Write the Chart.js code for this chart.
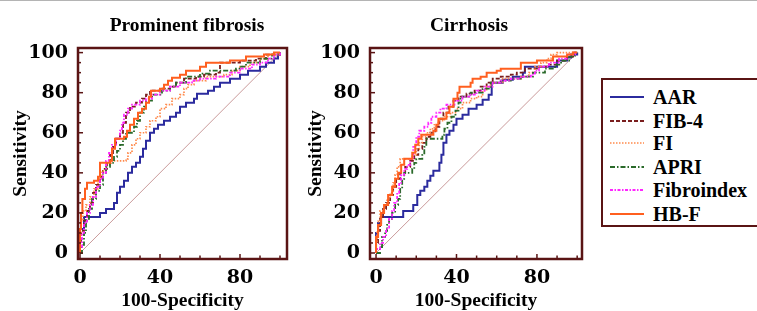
<!DOCTYPE html>
<html>
<head>
<meta charset="utf-8">
<script src="https://cdn.jsdelivr.net/npm/chart.js@4.4.0/dist/chart.umd.min.js"></script>
<style>
    body { margin: 0; width: 757px; height: 311px; overflow: hidden; background: #fff; position: relative; }
    .topline { position: absolute; left: 0; top: 0; width: 757px; height: 1px; background: #b4b4b4; }
    .panel { position: absolute; top: 0; }
    .title { position: absolute; width: 220px; text-align: center; font: bold 19.5px "Liberation Serif", serif; line-height: 22px; color: #000; }
    .legend { position: absolute; left: 601px; top: 78px; width: 180px; height: 149px; box-sizing: border-box; border: 2px solid #5a1414; }
    .legend .row { position: absolute; left: 0; height: 22px; }
    .legend svg { position: absolute; left: 7px; top: 0; }
    .legend span { position: absolute; left: 50px; top: 0; font: bold 20px "Liberation Serif", serif; line-height: 22px; color: #000; white-space: nowrap; }
</style>
</head>
<body>
<div class="topline"></div>
<div class="panel" style="left:0"><canvas id="pfChart" width="295" height="311"></canvas></div>
<div class="panel" style="left:295px"><canvas id="ciChart" width="295" height="311"></canvas></div>
<div class="title" style="left:77px; top:14px">Prominent fibrosis</div>
<div class="title" style="left:359px; top:14px">Cirrhosis</div>
<div class="legend" id="legend"></div>

<script>
// ROC curves: [100-Specificity, Sensitivity] step corners

// Prominent fibrosis
const pfAAR = [[0,0],[0,12],[2,18],[10,20],[13,22],[17,25],[18.5,30],[20,33],[22,36],[24,40],[26,43],[28,45],[30,48],[31.5,52],[33,56],[35,60],[37,62],[39,64],[42,66],[45,68],[48,70],[50,73],[53,75],[57,77],[58.5,79.5],[64,81],[67,83],[70,85],[75,87],[80,89],[84,91],[90,93],[93,95],[97,97],[99,99],[100,100]];
const pfFIB4 = [[0,0],[0,5],[0.5,11],[2,16],[3.5,21],[5,25],[6.5,30],[8,34],[10,38],[11.5,42],[13.5,45],[15,49],[16.5,53],[18,57],[20,60],[21.5,65],[23,70],[25,73],[28,75],[31,77],[33,79],[35,81],[40,82],[45,83],[48,85],[52,87],[58,88],[62,89],[68,90],[70,95],[80,96],[88,97],[93,99],[100,100]];
const pfFI = [[0,0],[0,8],[0.5,16],[1.5,21],[3,24],[5,28],[7,32],[9,37],[11,41],[13,44],[15.5,46],[23,47],[24,50],[26,54],[28,57],[30,60],[33,63],[35,66],[38,68],[40,72],[43,74],[46,77],[50,79],[52,82],[54,84],[57,86],[63,88],[72,89],[76,91],[80,93],[85,95],[90,97],[94,99],[100,100]];
const pfAPRI = [[0,0],[1,4],[2,10],[3,17],[4.5,22],[6,27],[8,31],[10,34],[11.5,40],[13,43],[15,45],[17,48],[18.5,51],[20,54],[21.5,57],[23,60],[27,63],[28.5,66],[30,70],[32,73],[33,76],[36,79],[41,81],[45,83],[48,85],[53,88],[60,89.5],[65,91],[78,92],[80,93],[83,95],[90,97],[96,99],[100,100]];
const pfFibroindex = [[0,0],[0,3],[1,10],[2,15],[3.5,20],[5,24],[6.5,28],[8,33],[10,37],[11.5,40],[13,46],[14.5,50],[16,54],[18,57],[20,61],[21,65],[22,69],[24,72],[26,74],[30,76],[33,77],[36,79],[40,81],[45,83],[50,85],[56,86],[60,87],[68,88],[75,90],[80,92],[86,94],[90,95],[94,97],[97,99],[100,100]];
const pfHBF = [[0,0],[0,12],[0.5,20],[1.2,27],[2.5,32],[3.5,35],[7,36],[9,38],[10,45],[15,46],[16,52],[17.5,57],[22,58],[23.5,61],[25,64],[27,67],[29,70],[31,72],[33,75],[34.5,78],[35.5,81],[40,82],[42,84],[44,86],[46,87.5],[50,89],[53,91],[60,93],[63,95],[75,96],[83,98],[92,99],[97,100],[100,100]];

// Cirrhosis
const ciAAR = [[0,0],[0,10],[1,15],[2.5,18],[13.5,21],[18.5,24],[20.5,29],[22,31],[24,33],[25.5,36],[27,38.5],[28.5,41],[31.5,45],[32.5,49],[33.5,55],[35,59],[36.5,61],[38.5,64],[40,67],[43,69],[46,72],[50,74],[53,76.5],[56,79],[57.5,85],[63,86.5],[68,88],[73,90],[74,93],[90,96],[95,97.5],[97,99],[100,100]];
const ciFIB4 = [[0,0],[0,5],[1,11],[2,17],[3.5,22],[5,25],[7,29],[8.5,33],[10,37],[12,40],[14.5,43],[17,46],[19,49],[21,52],[23,55],[25,58],[27,60],[29.5,63],[31.5,67],[33.5,70],[36,73],[38.5,76],[41,78],[45,79.5],[49,81],[52,83],[55,85],[58,87],[62,88],[67,89],[70,90],[74,92],[80,93],[86,94],[90,96],[95,98],[98,100],[100,100]];
const ciFI = [[0,0],[0,6],[0.5,11],[1.2,16],[2,21],[4,24],[5.5,27],[7,30],[8.5,35],[9.5,39],[10.5,43],[12,47],[18,49],[20,52],[21.5,55],[23,58],[25,60],[27,62],[29,64],[31,66],[34,68],[37,70],[40,72],[43,75],[47,77],[50,78],[53,81],[55,83],[57,85],[63,87],[72,88],[76,90],[79,93],[82,95],[85,97],[87,99],[90,100],[100,100]];
const ciAPRI = [[0,0],[2,3],[3,8],[4.5,11],[5.5,14],[6.5,17],[8,20],[9.5,24],[11,27],[12,32],[13,37],[14,40],[18,42],[19,45],[20,47],[23,49],[24,53],[25,57],[33,59],[34,62],[35.5,65],[37.5,68],[39.5,71],[41,75],[42,78],[47,80],[53,82],[57,85],[62,86],[67,87],[72,88],[78,90],[84,92],[89,94],[92,96],[96,98],[99,100],[100,100]];
const ciFibroindex = [[0,0],[0,2],[2,5],[3.5,8],[5,12],[6.5,17],[8,21],[9,25],[10.5,30],[11.5,35],[12.5,39],[14,42],[15.5,44],[17,47],[18.5,53],[20,58],[21.5,61],[24,63],[26,65],[27.5,68],[30,70],[32,72],[35,74],[39,76],[43,78],[47,79],[50,81],[54,83],[58,85],[62,86],[67,87],[72,88],[77,89],[79,91],[81,93],[86,95],[91,97],[95,99],[99,100],[100,100]];
const ciHBF = [[0,0],[0,8],[1,14],[2.5,20],[4,24],[6,29],[8,33],[9.5,37],[11,40],[12.5,44],[14,47],[18,50],[19.5,54],[21,57],[22.5,59],[28.5,61],[30,64],[31,67],[35,70],[36.5,73],[38.5,77],[40.5,80],[41.5,83],[47,85],[48,87],[52,88],[55,90],[60,91],[62,92],[72,95],[80,96],[88,98],[95,99],[98,100],[100,100]];

// Reference line
const diagonal = [[0,0],[100,100]];

// Axis ticks
const yTickLabels = [0, 20, 40, 60, 80, 100];
const xTickLabels = [0, 40, 80];

const FRAME = '#5a1414';

// Line styles per test
const SERIES = [
    { label: 'AAR',        color: '#2b2b9e', dash: [],           width: 2 },
    { label: 'FIB-4',      color: '#7a1e1e', dash: [4, 2],       width: 1.8 },
    { label: 'FI',         color: '#ff8a4c', dash: [1.5, 1.5],   width: 1.7 },
    { label: 'APRI',       color: '#2a6a2a', dash: [5, 2, 1.5, 2], width: 1.8 },
    { label: 'Fibroindex', color: '#ff26ff', dash: [3, 1.5, 1.5, 1.5], width: 1.8 },
    { label: 'HB-F',       color: '#ff5f1f', dash: [],           width: 2 }
];

const toPoints = arr => arr.map(([x, y]) => ({ x, y }));

// Frame and inward tick marks
const framePlugin = {
    id: 'frame',
    afterDraw(chart) {
        const { ctx, chartArea: a, scales: { x, y } } = chart;
        ctx.save();
        ctx.strokeStyle = FRAME;
        ctx.lineWidth = 1.5;
        for (let v = 0; v <= 100; v += 5) {
            const py = y.getPixelForValue(v);
            const len = v % 20 === 0 ? 5 : 3;
            ctx.beginPath();
            ctx.moveTo(a.left, py);
            ctx.lineTo(a.left + len, py);
            ctx.stroke();
        }
        for (let v = 0; v <= 100; v += 10) {
            const px = x.getPixelForValue(v);
            const len = v % 40 === 0 ? 5 : 3.5;
            ctx.beginPath();
            ctx.moveTo(px, a.bottom);
            ctx.lineTo(px, a.bottom - len);
            ctx.stroke();
        }
        ctx.lineWidth = 2.5;
        ctx.strokeRect(a.left, a.top, a.right - a.left, a.bottom - a.top);
        ctx.restore();
    }
};

function makeChart(id, curves, xMin, xMax, yAxisWidth) {
    const datasets = curves.map((curve, i) => ({
        label: SERIES[i].label,
        data: toPoints(curve),
        borderColor: SERIES[i].color,
        borderDash: SERIES[i].dash,
        borderWidth: SERIES[i].width,
        stepped: 'before',
        pointRadius: 0,
        fill: false,
        order: SERIES.length - i
    }));
    datasets.push({
        label: 'diagonal',
        data: toPoints(diagonal),
        borderColor: '#c99a9a',
        borderWidth: 1,
        pointRadius: 0,
        fill: false,
        order: 20
    });

    const tickFont = { family: '"DejaVu Serif", serif', weight: 'bold', size: 19 };
    const titleFont = { family: '"Liberation Serif", serif', weight: 'bold', size: 19.5, lineHeight: 1 };

    return new Chart(document.getElementById(id), {
        type: 'line',
        data: { datasets },
        plugins: [framePlugin],
        options: {
            responsive: false,
            animation: false,
            layout: { padding: { top: 48, right: 8, bottom: 0, left: 0 } },
            scales: {
                x: {
                    type: 'linear',
                    min: xMin,
                    max: xMax,
                    afterBuildTicks: s => { s.ticks = xTickLabels.map(v => ({ value: v })); },
                    afterFit: s => { s.height = 52; },
                    grid: { display: false },
                    border: { display: false },
                    ticks: { font: tickFont, color: '#000', padding: 0, maxRotation: 0 },
                    title: { display: true, text: '100-Specificity', font: titleFont, color: '#000', padding: { top: 0, bottom: 0 } }
                },
                y: {
                    type: 'linear',
                    min: -3,
                    max: 102.3,
                    afterBuildTicks: s => { s.ticks = yTickLabels.map(v => ({ value: v })); },
                    afterFit: s => { s.width = yAxisWidth; },
                    grid: { display: false },
                    border: { display: false },
                    ticks: { font: tickFont, color: '#000', padding: 2 },
                    title: { display: true, text: 'Sensitivity', font: titleFont, color: '#000', padding: { top: 11, bottom: 0 } }
                }
            },
            plugins: {
                legend: { display: false },
                tooltip: { enabled: false }
            }
        }
    });
}

makeChart('pfChart', [pfAAR, pfFIB4, pfFI, pfAPRI, pfFibroindex, pfHBF], -1, 103.5, 78);
makeChart('ciChart', [ciAAR, ciFIB4, ciFI, ciAPRI, ciFibroindex, ciHBF], -3, 102.4, 75);

// Legend box
const legendEl = document.getElementById('legend');
const rowCenters = [17, 41, 63, 87, 110, 134];
SERIES.forEach((s, i) => {
    const row = document.createElement('div');
    row.className = 'row';
    row.style.top = (rowCenters[i] - 11) + 'px';
    row.innerHTML =
        `<svg width="36" height="22"><line x1="0" y1="11" x2="34" y2="11" stroke="${s.color}" stroke-width="${s.width}" stroke-dasharray="${s.dash.join(' ')}"/></svg>` +
        `<span>${s.label}</span>`;
    legendEl.appendChild(row);
});
</script>
</body>
</html>
